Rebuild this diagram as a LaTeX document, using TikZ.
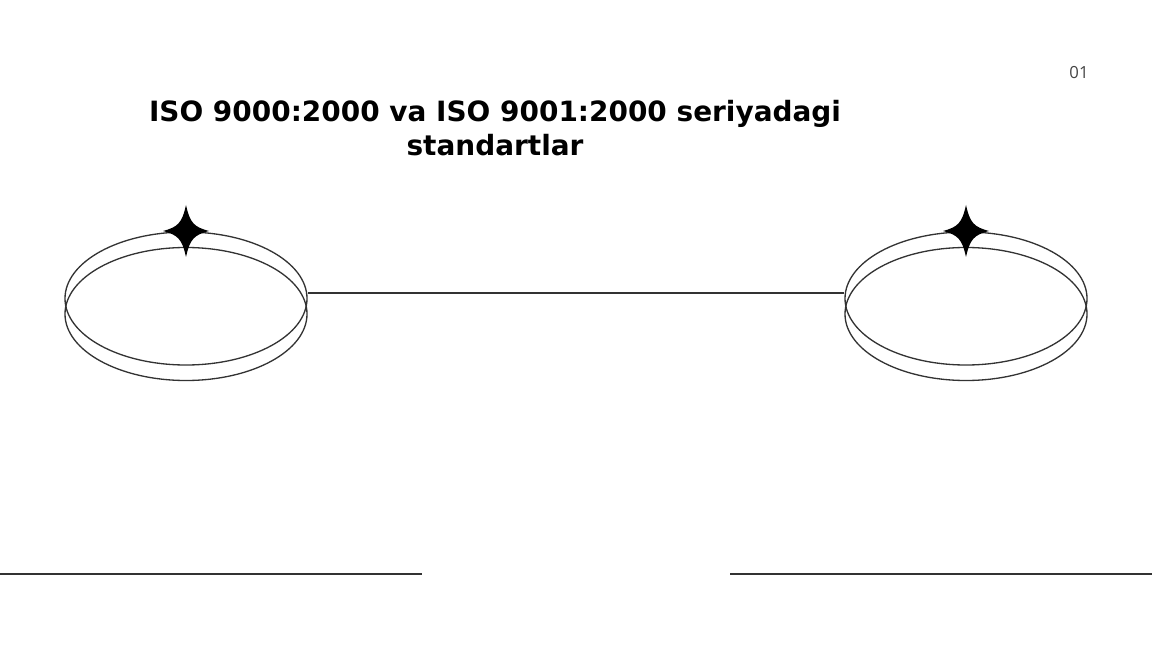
\documentclass[tikz,border=0pt]{standalone}
\usepackage{fontspec}
\usetikzlibrary{shapes.geometric}
\newfontfamily\titlefont{DejaVu Sans}
\newfontfamily\numfont{Open Sans}
\definecolor{linegray}{HTML}{333333}
\definecolor{numgray}{HTML}{444444}

\begin{document}
\begin{tikzpicture}[x=0.02cm, y=-0.02cm,
  ring/.style={ellipse, draw=linegray, line width=0.75pt, inner sep=0pt,
               minimum width=242*0.02cm, minimum height=133*0.02cm},
  sparkle/.pic={
    \fill (0,-26) .. controls (4,-8) and (8,-4) .. (23,0)
               .. controls (8,4) and (4,8) .. (0,26)
               .. controls (-4,8) and (-8,4) .. (-23,0)
               .. controls (-8,-4) and (-4,-8) .. cycle;
  }]
\useasboundingbox (0,0) rectangle (1152,648);

%------------------ TITLE ------------------%
\node[font=\titlefont\bfseries\fontsize{15.9}{19.3}\selectfont, align=center] (title)
  at (495,128) {ISO 9000:2000 va ISO 9001:2000 seriyadagi\\standartlar};
\node[font=\numfont\fontsize{9.5}{11}\selectfont, text=numgray] (pagenum) at (1079,73) {01};

%------------------ LEFT RINGS ------------------%
\node[ring] (ringLa) at (186,298.5) {};
\node[ring] (ringLb) at (186,314) {};
\pic at (186,231) {sparkle};

%------------------ RIGHT RINGS ------------------%
\node[ring] (ringRa) at (966,298.5) {};
\node[ring] (ringRb) at (966,314) {};
\pic at (966,231) {sparkle};

% link between the two ring pairs
\draw[linegray, line width=0.75pt] (ringLa.east |- 0,293) -- (ringRa.west |- 0,293);

%------------------ BOTTOM RULES ------------------%
\coordinate (ruleLa) at (0,574);
\coordinate (ruleLb) at (422,574);
\coordinate (ruleRa) at (730,574);
\coordinate (ruleRb) at (1152,574);
\draw[linegray, line width=0.75pt] (ruleLa) -- (ruleLb);
\draw[linegray, line width=0.75pt] (ruleRa) -- (ruleRb);

\end{tikzpicture}
\end{document}
